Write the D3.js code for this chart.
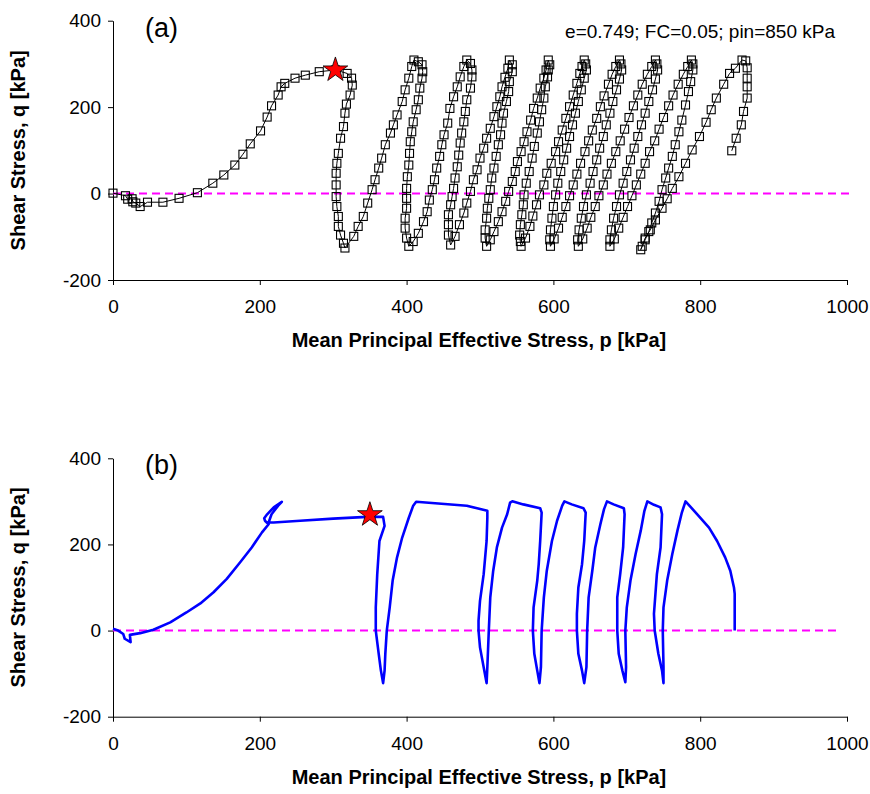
<!DOCTYPE html>
<html><head><meta charset="utf-8">
<script src="https://cdn.jsdelivr.net/npm/d3@7"></script>
<style>body{margin:0;background:#fff}svg{display:block}</style>
</head><body>
<svg id="c" width="870" height="794"></svg>
<script>
// ---------- DATA ----------
const xTicks = [0, 200, 400, 600, 800, 1000];
const yTicks = [-200, 0, 200, 400];
const xTitle = "Mean Principal Effective Stress, p [kPa]";
const yTitle = "Shear Stress, q [kPa]";
const infoText = "e=0.749; FC=0.05; pin=850 kPa";
const panelLabels = ["(a)", "(b)"];

// (a) stress path with markers: monotonic loading, then cyclic loops
const aLoading = [[0,1],[17,-5],[20,-13],[26,-12],[27,-19],[31,-22],[37,-30],[47,-20],[68,-20],[90,-11],[115,2],[136,24],[151,43],[166,66],[177,91],[187,115],[201,145],[210,177],[216,203],[225,228],[229,247],[234,255],[248,267],[262,274],[281,282],[303,286],[319,278],[325,267],[326,251],
 [323,228],[318,207],[316,186],[314,155],[310,128],[307,93],[305,70],[304,47],[304,20],[304,-7],[305,-30],[307,-53],[307,-76],[310,-96],[314,-115],[316,-126]];
const aCycle1 = [[328,-99],[334,-76],[341,-53],[347,-22],[353,9],[357,32],[362,59],[366,82],[371,113],[378,140],[382,159],[387,182],[394,213],[398,240],[403,267],[407,294],[410,309],
 [416,305],[421,298],[422,282],[421,267],[418,244],[416,217],[413,194],[409,166],[407,143],[405,120],[404,93],[403,66],[401,39],[400,12],[400,-11],[400,-34],[398,-57],[398,-80],[400,-103],[403,-122]];
const aCycle2 = [[409,-111],[416,-92],[423,-65],[428,-42],[431,-15],[435,9],[438,32],[441,59],[445,86],[448,113],[451,136],[456,163],[459,197],[464,224],[469,247],[473,270],[478,294],[482,309],
 [487,301],[489,286],[489,270],[487,244],[482,217],[480,190],[478,166],[475,140],[473,117],[471,89],[469,62],[466,36],[464,12],[462,-7],[460,-26],[457,-49],[457,-72],[457,-96],[460,-119]];
const aCycle3 = [[466,-99],[472,-72],[478,-45],[482,-22],[487,5],[491,32],[496,55],[500,82],[505,105],[509,128],[514,151],[519,178],[523,201],[527,224],[530,247],[534,269],[538,290],[540,309],
 [544,298],[544,282],[540,259],[539,236],[536,213],[532,186],[530,163],[528,136],[525,113],[522,86],[519,59],[516,36],[514,9],[512,-11],[510,-34],[509,-57],[507,-84],[507,-103],[509,-122]];
const aCycle4 = [[514,-107],[519,-88],[525,-65],[530,-42],[535,-18],[539,5],[544,28],[548,51],[551,74],[556,97],[560,120],[564,143],[569,170],[573,197],[578,221],[582,244],[587,267],[590,286],[593,309],
 [595,298],[593,286],[592,270],[589,247],[587,221],[584,194],[581,166],[578,140],[574,109],[571,82],[567,51],[563,24],[560,-3],[559,-26],[557,-49],[555,-72],[554,-96],[555,-111],[556,-122]];
const aCycle5 = [[562,-103],[568,-76],[572,-52],[577,-26],[581,-3],[587,20],[591,47],[597,70],[603,97],[607,120],[612,147],[617,174],[622,201],[627,228],[632,255],[636,278],[639,294],[642,309],
 [644,300],[645,286],[642,267],[638,240],[634,213],[630,186],[626,159],[622,132],[618,105],[614,78],[610,51],[606,24],[603,-3],[600,-30],[598,-57],[596,-84],[595,-107],[596,-122]];
const aCycle6 = [[601,-105],[607,-80],[612,-55],[617,-30],[622,-5],[627,20],[632,45],[637,70],[643,97],[648,122],[653,147],[659,174],[664,201],[669,226],[675,253],[680,276],[685,294],[690,309],
 [692,300],[693,286],[690,265],[686,240],[681,213],[677,186],[672,159],[668,132],[663,105],[659,78],[654,51],[650,24],[645,-3],[641,-30],[638,-57],[635,-84],[633,-107],[634,-122]];
const aCycle7 = [[640,-105],[646,-80],[651,-55],[657,-30],[662,-5],[668,20],[673,45],[679,70],[685,97],[691,122],[697,149],[703,176],[709,203],[715,228],[721,253],[728,276],[734,294],[739,309],
 [741,300],[742,286],[739,265],[735,240],[730,213],[725,186],[720,159],[715,132],[710,105],[705,78],[700,51],[695,24],[690,-3],[686,-30],[682,-57],[679,-84],[677,-107],[677,-122]];
const aCycle8 = [[683,-105],[689,-80],[695,-55],[701,-30],[707,-5],[713,20],[719,45],[725,70],[731,97],[738,122],[744,149],[750,176],[757,203],[763,228],[770,253],[777,276],[783,294],[788,309],
 [790,300],[790,286],[787,259],[784,236],[780,205],[775,170],[771,143],[766,113],[762,86],[757,59],[753,36],[748,9],[744,-18],[739,-45],[734,-68],[730,-88],[725,-107],[721,-122],[719,-130]];
const aCycle9 = [[725,-103],[732,-84],[739,-61],[748,-34],[755,-12],[762,12],[771,39],[780,70],[789,101],[799,132],[808,165],[815,194],[822,221],[832,253],[840,278],[848,290],[857,309],
 [862,307],[864,291],[864,267],[864,247],[864,221],[859,190],[856,159],[849,128],[843,99]];
const aStar = [303, 286];

// (b) simulated stress path (blue line)
const bPath = [[0,4],[7,0],[14,-8],[16,-19],[24,-27],[23,-10],[37,-6],[55,2],[78,19],[100,42],[119,63],[137,89],[155,120],[173,158],[189,193],[203,228],[212,247],[207,255],[206,261],[210,270],[219,286],[230,299],[225,290],[216,270],[212,251],[219,251],[255,255],[300,260],[346,264],[368,264],
 [370,243],[363,208],[360,131],[358,54],[358,0],[362,-54],[365,-93],[368,-122],
 [370,-93],[371,-54],[373,0],[377,54],[381,116],[387,170],[394,216],[403,262],[409,290],[413,299],[482,290],[510,278],
 [510,262],[509,208],[505,131],[500,69],[498,23],[498,0],[500,-39],[505,-85],[509,-122],
 [510,-85],[512,0],[514,77],[518,139],[523,193],[530,239],[537,270],[541,297],[544,300],[559,293],[582,284],
 [584,274],[582,208],[580,154],[578,116],[573,54],[572,0],[574,-54],[578,-93],[581,-122],
 [583,-85],[584,0],[587,77],[591,139],[598,208],[605,255],[612,290],[615,300],[625,293],[641,284],
 [644,274],[642,208],[639,154],[634,100],[632,39],[632,0],[634,-54],[639,-93],[642,-122],
 [645,-85],[646,0],[648,77],[653,139],[657,193],[664,247],[669,282],[673,300],[682,293],[696,284],
 [697,270],[695,193],[691,131],[687,77],[687,0],[689,-54],[694,-93],[698,-120],
 [699,-85],[698,0],[700,54],[705,116],[712,178],[719,232],[724,278],[728,300],[737,292],[746,286],
 [748,270],[746,193],[741,131],[737,39],[738,0],[743,-54],[748,-93],[750,-122],
 [750,-85],[749,0],[750,54],[755,116],[762,178],[769,232],[775,274],[780,300],
 [796,270],[812,239],[823,208],[834,170],[841,139],[846,100],[847,85],[847,0]];
const bStar = [350, 269];

const zeroLineA = [0, 1005];
const zeroLineB = [0, 990];

// ---------- DRAW ----------
const FONT = "'Liberation Sans', Arial, sans-serif";
const svg = d3.select('#c');
const x = d3.scaleLinear().domain([0, 1000]).range([113, 847]);

const aPath = [].concat(aLoading, aCycle1, aCycle2, aCycle3, aCycle4, aCycle5, aCycle6, aCycle7, aCycle8, aCycle9);

function panel(o) {
  const y = d3.scaleLinear().domain([-200, 400]).range([o.yBottom, o.yTop]);
  const g = svg.append('g');

  const xa = g.append('g').attr('transform', `translate(0,${y(-200)})`)
    .call(d3.axisBottom(x).tickValues(xTicks).tickFormat(d => String(d)).tickSize(5).tickSizeOuter(0).tickPadding(15));
  const ya = g.append('g').attr('transform', `translate(${x(0)},0)`)
    .call(d3.axisLeft(y).tickValues(yTicks).tickFormat(d => String(d)).tickSize(5).tickSizeOuter(0).tickPadding(7));
  [xa, ya].forEach(a => {
    a.selectAll('path,line').attr('stroke', '#000').attr('stroke-width', 1);
    a.selectAll('text').attr('fill', '#000').style('font-family', FONT).style('font-size', '19px');
  });

  g.append('text').attr('x', 479).attr('y', y(-200) + o.titleOff).attr('text-anchor', 'middle')
    .style('font-family', FONT).style('font-size', '20px').style('font-weight', 'bold').text(xTitle);
  const yc = (y(400) + y(-200)) / 2;
  g.append('text').attr('transform', `translate(25,${yc}) rotate(-90)`).attr('text-anchor', 'middle')
    .style('font-family', FONT).style('font-size', '20px').style('font-weight', 'bold').text(yTitle);

  g.append('text').attr('x', 145).attr('y', y(400) + 16).style('font-family', FONT).style('font-size', '27px').text(o.label);

  g.append('line').attr('x1', x(o.zero[0])).attr('x2', x(o.zero[1])).attr('y1', y(0)).attr('y2', y(0))
    .attr('stroke', '#FF00FF').attr('stroke-width', 2).attr('stroke-dasharray', '8,5');

  const line = d3.line().x(d => x(d[0])).y(d => y(d[1]));
  g.append('path').datum(o.data).attr('d', line).attr('fill', 'none')
    .attr('stroke', o.color).attr('stroke-width', o.width).attr('stroke-linejoin', 'round');

  if (o.markers) {
    g.append('g').selectAll('rect').data(o.data).join('rect')
      .attr('x', d => x(d[0]) - 4).attr('y', d => y(d[1]) - 4).attr('width', 8).attr('height', 8)
      .attr('fill', 'none').attr('stroke', '#000').attr('stroke-width', 1.1);
  }
  g.append('path').attr('d', d3.symbol(d3.symbolStar, 190)())
    .attr('transform', `translate(${x(o.star[0])},${y(o.star[1])})`)
    .attr('fill', '#FF0000').attr('stroke', '#000').attr('stroke-width', 0.8);
  return y;
}

panel({yTop: 20.7, yBottom: 280, data: aPath, color: '#000', width: 1, markers: true, star: aStar, label: panelLabels[0], zero: zeroLineA, titleOff: 67});
svg.append('text').attr('x', 835).attr('y', 38).attr('text-anchor', 'end')
  .style('font-family', FONT).style('font-size', '19px').text(infoText);
panel({yTop: 458.3, yBottom: 716.7, data: bPath, color: '#0000FF', width: 2.6, markers: false, star: bStar, label: panelLabels[1], zero: zeroLineB, titleOff: 67});
</script>
</body></html>
